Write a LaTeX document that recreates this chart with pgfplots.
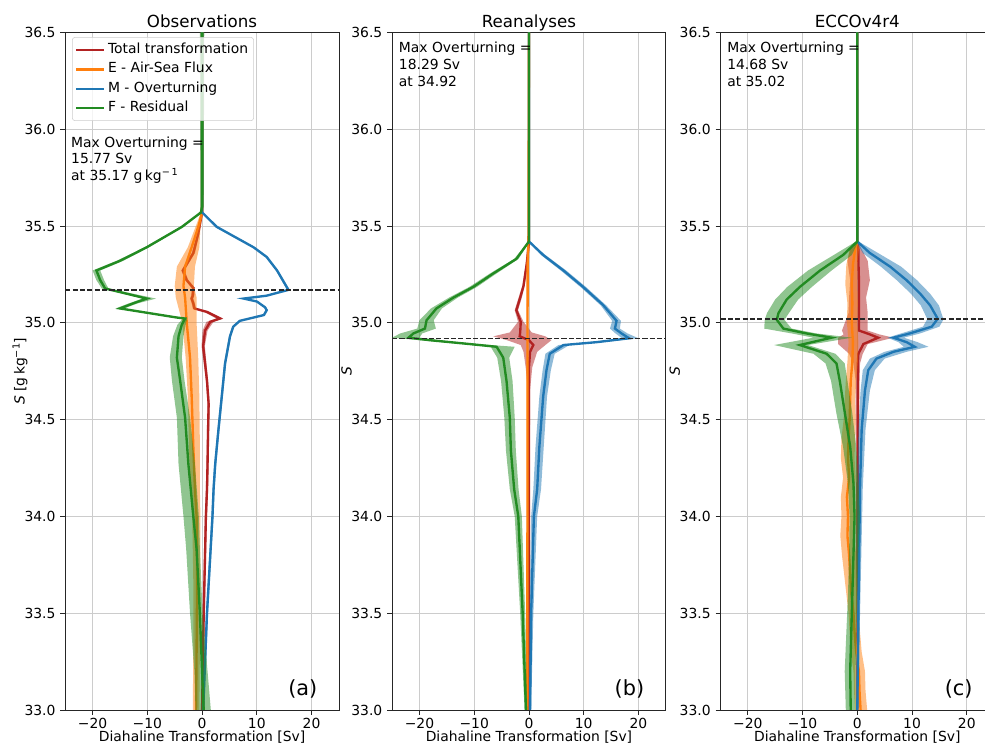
\documentclass[border=0pt]{standalone}
\usepackage{fontspec}
\setmainfont{DejaVu Sans}
\usepackage{pgfplots}
\pgfplotsset{compat=1.18}
\usepackage{pgfplotstable}

\definecolor{cR}{RGB}{178,34,34}
\definecolor{cE}{RGB}{255,127,14}
\definecolor{cM}{RGB}{31,119,180}
\definecolor{cF}{RGB}{34,139,34}

% ---------------- Observations ----------------
\pgfplotstableread{
s m lo hi
36.50 0.0 -0.1 0.1
35.57 0.0 -0.1 0.1
35.46 -0.7 -0.9 -0.5
35.36 -1.6 -1.9 -1.3
35.27 -3.5 -3.8 -3.2
35.22 -2.8 -3.1 -2.5
35.18 -1.6 -1.9 -1.3
35.14 -1.7 -2.0 -1.4
35.125 -1.9 -2.2 -1.6
35.10 -1.6 -1.9 -1.3
35.074 -1.4 -1.7 -1.1
35.056 0.9 0.4 1.3
35.022 3.3 2.6 3.8
35.005 1.5 0.8 2.1
34.96 0.55 0.1 1.0
34.88 0.2 -0.1 0.5
34.79 0.55 0.3 0.8
34.70 0.9 0.7 1.1
34.58 1.2 1.0 1.4
34.45 1.1 0.9 1.3
34.27 1.0 0.8 1.2
34.14 0.9 0.7 1.1
34.00 0.7 0.5 0.9
33.50 0.3 0.1 0.5
33.00 0.0 -0.2 0.2
}\obsR
\pgfplotstableread{
s m lo hi
36.50 0.0 -0.1 0.1
35.57 0.0 -0.2 0.2
35.495 -0.7 -1.2 -0.3
35.39 -1.9 -2.6 -0.5
35.29 -3.1 -4.6 -1.3
35.19 -3.4 -5.0 -1.5
35.13 -3.1 -4.8 -1.0
35.00 -2.8 -3.6 -1.0
34.82 -2.2 -3.0 -0.7
34.62 -1.9 -2.6 -0.5
34.36 -1.6 -2.4 -0.4
34.14 -1.3 -2.1 -0.4
34.00 -1.0 -1.8 -0.3
33.66 -0.9 -1.6 -0.3
33.31 -1.0 -1.6 -0.4
33.00 -1.1 -1.7 -0.5
}\obsE
\pgfplotstableread{
s m lo hi
36.50 0.0 -0.1 0.1
35.57 0.0 -0.1 0.1
35.495 2.7 2.5 2.9
35.39 9.4 9.2 9.6
35.34 11.8 11.6 12.0
35.27 13.7 13.5 13.9
35.17 15.77 15.5 16.0
35.14 11.8 11.6 12.0
35.125 7.6 7.4 7.8
35.11 10.0 9.8 10.2
35.08 11.5 11.3 11.7
35.065 11.8 11.6 12.0
35.04 11.3 11.1 11.5
35.01 6.9 6.7 7.1
34.98 5.7 5.5 5.9
34.93 5.1 4.9 5.3
34.79 4.2 4.0 4.4
34.62 3.6 3.4 3.8
34.45 3.0 2.8 3.2
34.27 2.4 2.2 2.6
34.14 2.1 1.9 2.3
34.00 1.9 1.7 2.1
33.50 0.9 0.7 1.1
33.00 0.2 0.0 0.4
}\obsM
\pgfplotstableread{
s m lo hi
36.50 0.0 -0.4 0.4
35.60 0.0 -0.3 0.3
35.57 -0.2 -0.4 0.0
35.495 -3.7 -4.0 -3.4
35.39 -10.1 -10.5 -9.7
35.32 -15.0 -15.6 -14.4
35.27 -19.3 -20.0 -18.6
35.22 -18.6 -19.3 -17.9
35.177 -17.7 -18.3 -17.1
35.125 -10.1 -10.9 -8.4
35.10 -12.6 -13.4 -11.8
35.074 -15.0 -15.8 -14.2
35.027 -4.6 -5.0 -4.2
35.022 -3.1 -3.5 -2.7
34.99 -3.7 -4.5 -3.0
34.93 -4.3 -5.3 -3.4
34.82 -4.6 -5.9 -3.7
34.70 -4.0 -5.5 -3.2
34.51 -3.1 -4.6 -2.2
34.27 -2.5 -4.3 -1.3
34.00 -1.6 -3.4 -0.6
33.83 -1.0 -2.9 -0.4
33.50 -0.4 -2.2 0.1
33.20 0.0 -1.4 1.0
33.00 0.3 -1.2 1.6
}\obsF

% ---------------- Reanalyses ----------------
\pgfplotstableread{
s m lo hi
36.50 0.0 -0.1 0.1
35.42 0.0 -0.1 0.1
35.305 -0.4 -0.6 -0.2
35.19 -1.0 -1.2 -0.8
35.13 -1.6 -1.9 -1.3
35.065 -2.3 -2.6 -2.0
35.005 -1.5 -2.0 -1.0
34.95 -1.6 -3.5 0.5
34.93 -1.7 -6.5 3.0
34.91 0.0 -4.0 4.1
34.885 0.8 -1.5 3.0
34.85 0.2 -1.0 1.5
34.77 0.0 -0.6 0.6
34.65 0.0 -0.2 0.2
33.00 0.0 -0.1 0.1
}\reaR
\pgfplotstableread{
s m lo hi
36.50 0.0 -0.1 0.1
35.42 -0.1 -0.2 0.0
35.30 -0.25 -0.4 -0.1
33.00 -0.3 -0.45 -0.15
}\reaE
\pgfplotstableread{
s m lo hi
36.50 0.0 -0.1 0.1
35.42 0.0 -0.1 0.1
35.35 2.6 2.2 3.0
35.27 6.3 5.8 6.8
35.185 9.9 9.4 10.4
35.09 13.6 13.1 14.1
35.01 16.0 15.2 16.8
34.97 15.7 14.8 16.6
34.945 16.9 15.8 18.0
34.92 18.29 17.0 20.0
34.90 12.4 11.4 13.6
34.885 6.3 5.4 7.4
34.84 3.8 3.0 4.7
34.755 3.2 2.5 4.0
34.62 2.6 1.9 3.3
34.36 1.9 1.2 2.7
34.14 1.5 0.8 2.2
34.00 0.9 0.4 1.5
33.50 0.4 0.1 0.8
33.00 0.2 0.0 0.4
}\reaM
\pgfplotstableread{
s m lo hi
36.50 0.0 -0.1 0.1
35.42 0.0 -0.1 0.1
35.33 -2.3 -2.7 -1.9
35.255 -6.5 -7.1 -5.9
35.185 -10.2 -10.9 -9.5
35.13 -13.8 -14.6 -13.0
35.074 -16.9 -17.9 -15.9
35.013 -18.7 -20.0 -17.4
34.97 -19.0 -20.4 -17.0
34.945 -21.1 -23.5 -19.5
34.923 -22.0 -25.0 -20.0
34.91 -18.1 -20.0 -16.5
34.89 -10.8 -12.0 -9.5
34.876 -5.9 -7.0 -2.6
34.82 -4.7 -5.8 -3.6
34.70 -4.1 -5.1 -3.0
34.51 -3.5 -4.5 -2.6
34.34 -3.3 -4.2 -2.4
34.14 -2.7 -3.5 -1.9
34.00 -1.95 -2.6 -1.3
33.50 -1.15 -1.6 -0.7
33.00 -0.55 -0.8 -0.3
}\reaF

% ---------------- ECCOv4r4 ----------------
\pgfplotstableread{
s m lo hi
36.50 0.0 -0.1 0.1
35.42 0.0 -0.1 0.1
35.38 0.2 -1.3 0.8
35.32 0.2 -1.8 1.9
35.22 0.3 -1.3 2.3
35.13 0.3 -1.5 1.6
35.05 0.3 -1.6 1.9
34.96 0.3 -2.8 1.9
34.94 2.3 -2.5 4.0
34.923 3.8 -3.5 6.6
34.89 1.1 -3.5 1.9
34.84 0.2 -1.5 1.0
34.79 0.1 -0.7 0.5
34.70 0.1 -0.3 0.4
33.00 0.0 -0.2 0.2
}\ecR
\pgfplotstableread{
s m lo hi
36.50 0.0 -0.1 0.1
35.42 0.0 -0.2 0.2
35.38 -0.4 -1.4 0.3
35.30 -0.8 -2.0 0.0
35.20 -1.0 -2.2 0.0
35.10 -0.9 -1.8 0.1
35.00 -1.0 -1.9 0.0
34.90 -0.8 -1.6 0.2
34.80 -0.9 -1.8 0.1
34.70 -1.2 -2.1 -0.2
34.60 -1.3 -2.3 -0.4
34.50 -1.4 -2.5 -0.3
34.40 -1.6 -2.9 -0.4
34.30 -1.7 -3.0 -0.5
34.20 -1.5 -2.6 -0.3
34.10 -1.9 -3.0 -0.6
34.00 -1.7 -2.9 -0.4
33.90 -1.8 -3.1 -0.6
33.80 -1.5 -2.8 -0.2
33.70 -1.3 -2.4 -0.1
33.60 -1.1 -2.0 0.0
33.50 -0.7 -1.6 0.3
33.40 -0.5 -1.4 0.5
33.30 -0.2 -1.2 0.8
33.20 0.3 -0.7 1.4
33.10 0.4 -0.6 1.5
33.00 0.6 -0.4 1.8
}\ecE
\pgfplotstableread{
s m lo hi
36.50 0.0 -0.1 0.1
35.42 0.0 -0.2 0.2
35.36 2.3 1.0 3.8
35.29 6.0 4.3 8.0
35.22 9.0 7.2 10.9
35.15 11.5 9.8 13.3
35.09 13.3 11.6 14.9
35.03 14.5 12.6 15.6
35.02 14.68 12.8 15.8
34.98 13.6 12.0 15.0
34.945 9.6 8.0 11.5
34.923 6.6 5.5 8.5
34.90 9.0 7.5 11.0
34.876 10.5 8.5 13.0
34.85 6.6 5.0 9.0
34.815 3.5 2.3 5.0
34.755 2.0 1.0 3.2
34.65 1.4 0.6 2.3
34.45 0.8 0.2 1.5
34.15 0.5 0.0 1.0
33.50 0.2 -0.1 0.5
33.00 0.0 -0.2 0.2
}\ecM
\pgfplotstableread{
s m lo hi
36.50 0.0 -0.1 0.1
35.42 0.0 -0.2 0.2
35.35 -2.6 -4.3 -1.0
35.27 -6.8 -9.0 -4.7
35.185 -10.5 -12.8 -8.3
35.12 -12.9 -15.0 -10.8
35.05 -14.4 -16.5 -12.5
35.015 -14.7 -16.9 -13.3
34.97 -13.5 -17.0 -12.0
34.945 -9.3 -12.0 -7.5
34.923 -4.7 -8.0 -1.0
34.885 -10.5 -15.2 -9.0
34.84 -5.6 -8.0 -4.0
34.79 -3.8 -5.8 -2.3
34.70 -3.2 -4.8 -1.8
34.53 -2.25 -3.8 -0.9
34.36 -1.3 -2.6 -0.2
34.17 -0.7 -1.7 0.2
34.00 -0.5 -1.4 0.5
33.80 -0.7 -1.5 0.2
33.60 -0.9 -1.7 0.0
33.40 -1.1 -2.0 -0.2
33.20 -1.3 -2.3 -0.3
33.00 -1.2 -2.1 -0.3
}\ecF

% Outline of the shaded spread: the lower bound going down in S,
% then the upper bound coming back up, as one closed polygon (column bx).
\newcommand{\mkband}[2]{%
  \pgfplotstablesort[sort key=s, sort cmp=float >]{#2}{#1}%
  \pgfplotstablesort[sort key=s, sort cmp=float <]{\bandtmp}{#1}%
  \pgfplotstablecreatecol[copy=lo]{bx}{#2}%
  \pgfplotstablecreatecol[copy=hi]{bx}{\bandtmp}%
  \pgfplotstablevertcat{#2}{\bandtmp}%
}
\mkband{\obsR}{\obsRb}\mkband{\obsE}{\obsEb}\mkband{\obsM}{\obsMb}\mkband{\obsF}{\obsFb}
\mkband{\reaR}{\reaRb}\mkband{\reaE}{\reaEb}\mkband{\reaM}{\reaMb}\mkband{\reaF}{\reaFb}
\mkband{\ecR}{\ecRb}\mkband{\ecE}{\ecEb}\mkband{\ecM}{\ecMb}\mkband{\ecF}{\ecFb}

% one term of the budget: shaded spread and its mean
\newcommand{\budget}[3]{%
  \addplot[fill=#2, fill opacity=0.5, draw=none, forget plot] table[x=bx, y=s]{#3} -- cycle;
  \addplot[#2, line width=1.7pt] table[x=m, y=s]{#1};
}

\pgfplotsset{
  panel/.style={
    scale only axis, width=197.1pt, height=487.9pt,
    anchor=south west,
    xmin=-25, xmax=25, ymin=33, ymax=36.5,
    xtick={-20,-10,0,10,20},
    xticklabels={−20,−10,0,10,20},
    ytick={33,33.5,34,34.5,35,35.5,36,36.5},
    yticklabels={33.0,33.5,34.0,34.5,35.0,35.5,36.0,36.5},
    xtick pos=bottom, ytick pos=left,
    tick align=outside, major tick length=3.5pt,
    tick style={black!85, line width=0.58pt},
    axis line style={black!85, line width=0.58pt},
    grid=major, grid style={black!20, line width=0.58pt},
    tick label style={font=\fontsize{10}{12}\selectfont},
    xticklabel style={inner ysep=1.5pt, yshift=-1pt},
    label style={font=\fontsize{10}{12}\selectfont},
    title style={at={(0.5,1)}, anchor=base, yshift=-2.8pt, font=\fontsize{12}{14}\selectfont},
    xlabel={Diahaline Transformation [Sv]},
    xlabel style={at={(axis description cs:0.5,0)}, anchor=base, inner sep=0pt, yshift=-22.8pt},
    ylabel style={at={(axis description cs:-0.148,0.5)}, anchor=base, inner sep=0pt},
  },
}

\begin{document}
\begin{tikzpicture}
\begin{axis}[panel, at={(46.94pt,26.64pt)},
  title={Observations},
  ylabel={\textit{S} [g\,kg\textsuperscript{−1}]},
  legend style={at={(axis description cs:0.025,0.993)}, anchor=north west,
    draw=black!20, fill=white, fill opacity=0.8, text opacity=1,
    rounded corners=2pt, font=\fontsize{10}{12}\selectfont,
    inner xsep=2pt, inner ysep=2pt, row sep=0pt,
    nodes={text height=7.6pt, text depth=2.4pt, inner ysep=2pt}},
  legend cell align=left,
  legend image code/.code={\draw[#1, line width=1.7pt] (0pt,0pt) -- (20pt,0pt);},
]
\budget{\obsR}{cR}{\obsRb}
\addlegendentry{Total transformation}
\budget{\obsE}{cE}{\obsEb}
\addlegendentry{E - Air-Sea Flux}
\budget{\obsM}{cM}{\obsMb}
\addlegendentry{M - Overturning}
\budget{\obsF}{cF}{\obsFb}
\addlegendentry{F - Residual}
\addplot[black!85, line width=1pt, dash pattern=on 3.7pt off 1.6pt, forget plot]
  coordinates {(-25,35.17) (25,35.17)};
\node[anchor=north west, inner sep=0pt, align=left, font=\fontsize{10}{12}\selectfont]
  at (axis cs:-23.95,35.963) {Max Overturning =\\15.77 Sv\\at 35.17 g\,kg\textsuperscript{−\,1}};
\node[anchor=base east, inner sep=0pt, font=\fontsize{15}{18}\selectfont]
  at (axis cs:21.1,33.074) {(a)};
\end{axis}

\begin{axis}[panel, at={(282.3pt,26.64pt)},
  title={Reanalyses},
  ylabel={\textit{S}},
]
\budget{\reaR}{cR}{\reaRb}
\budget{\reaE}{cE}{\reaEb}
\budget{\reaM}{cM}{\reaMb}
\budget{\reaF}{cF}{\reaFb}
\addplot[black!85, line width=1pt, dash pattern=on 3.7pt off 1.6pt]
  coordinates {(-25,34.92) (25,34.92)};
\node[anchor=north west, inner sep=0pt, align=left, font=\fontsize{10}{12}\selectfont]
  at (axis cs:-23.8,36.45) {Max Overturning =\\18.29 Sv\\at 34.92};
\node[anchor=base east, inner sep=0pt, font=\fontsize{15}{18}\selectfont]
  at (axis cs:21.1,33.074) {(b)};
\end{axis}

\begin{axis}[panel, at={(518.7pt,26.64pt)},
  title={ECCOv4r4},
  ylabel={\textit{S}},
]
\budget{\ecR}{cR}{\ecRb}
\budget{\ecE}{cE}{\ecEb}
\budget{\ecM}{cM}{\ecMb}
\budget{\ecF}{cF}{\ecFb}
\addplot[black!85, line width=1pt, dash pattern=on 3.7pt off 1.6pt]
  coordinates {(-25,35.02) (25,35.02)};
\node[anchor=north west, inner sep=0pt, align=left, font=\fontsize{10}{12}\selectfont]
  at (axis cs:-23.8,36.45) {Max Overturning =\\14.68 Sv\\at 35.02};
\node[anchor=base east, inner sep=0pt, font=\fontsize{15}{18}\selectfont]
  at (axis cs:21.1,33.074) {(c)};
\end{axis}

\pgfresetboundingbox
\useasboundingbox (0,0) rectangle (709.2pt,537.84pt);
\end{tikzpicture}
\end{document}
